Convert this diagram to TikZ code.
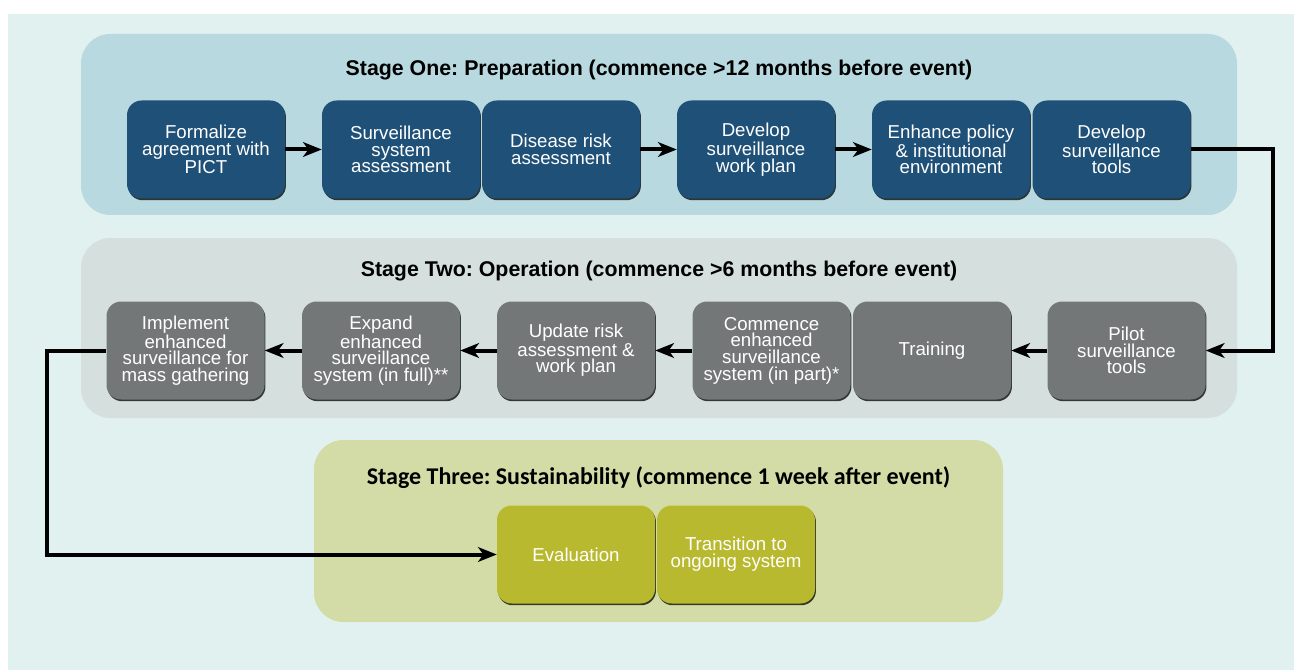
\documentclass[tikz,border=0pt]{standalone}
\usepackage{fontspec}
\setmainfont{Liberation Sans}
\newfontfamily\calibrifont{Carlito}
\usetikzlibrary{arrows.meta, shadows, positioning}
\frenchspacing

\definecolor{pagebg}{HTML}{E1F1F0}
\definecolor{panelone}{HTML}{B7D9DF}
\definecolor{paneltwo}{HTML}{D5DFDE}
\definecolor{panelthree}{HTML}{D3DCA6}
\definecolor{boxblue}{HTML}{1E5078}
\definecolor{boxgray}{HTML}{747778}
\definecolor{boxolive}{HTML}{B9B92F}

\begin{document}
\begin{tikzpicture}[x=0.75pt, y=-0.75pt,
		stepbox/.style={rounded corners=11pt, minimum width=118.5pt, minimum height=73.5pt,
			inner sep=0pt, align=center, text=white, font=\fontsize{14}{12.5}\selectfont,
			drop shadow={shadow xshift=0.7pt, shadow yshift=-1.3pt, opacity=0.75, fill=black}},
		flow/.style={line width=3pt, -{Stealth[length=14pt, width=11pt, inset=4pt]}},
		stagetitle/.style={font=\bfseries\fontsize{16}{19}\selectfont}]
		\useasboundingbox (0,0) rectangle (1294,670);
		\fill[pagebg] (8,14) rectangle (1294,670);
		
		\def\rowOne{149.5}   % y of stage one boxes
		\def\rowTwo{350.5}   % y of stage two boxes
		\def\rowThree{554.5} % y of stage three boxes
		
		% stage panels
		\fill[panelone, rounded corners=22pt] (81,34) rectangle (1237,215);
		\fill[paneltwo, rounded corners=22pt] (81,238) rectangle (1237,418);
		\fill[panelthree, rounded corners=22pt] (314,440) rectangle (1003,622);
		
		\node[stagetitle] (titleone) at (659,70) {Stage One: Preparation (commence >12 months before event)};
		\node[stagetitle] (titletwo) at (659,271) {Stage Two: Operation (commence >6 months before event)};
		\node[stagetitle, font=\calibrifont\bfseries\fontsize{18}{21}\selectfont] (titlethree) at (658.5,478) {Stage Three: Sustainability (commence 1 week after event)};
		
		% stage one
		\foreach \name/\x/\txt in {formalize/206/{Formalize\\agreement with\\PICT},
			survsys/401/{Surveillance\\system\\assessment},
			riskassess/561/{Disease risk\\assessment},
			workplan/756/{Develop\\surveillance\\work plan},
			policy/951/{Enhance policy\\\& institutional\\environment},
			devtools/1111.5/{Develop\\surveillance\\tools}}{
			\node[stepbox, fill=boxblue] (\name) at (\x,\rowOne) {\txt};
		}
		
		% stage two
		\foreach \name/\x/\txt in {implement/185.5/{Implement\\enhanced\\surveillance for\\mass gathering},
			expand/381/{Expand\\enhanced\\surveillance\\system (in full)**},
			update/576/{Update risk\\assessment \&\\work plan},
			commence/771.5/{Commence\\enhanced\\surveillance\\system (in part)*},
			training/932/{Training},
			pilot/1126.5/{Pilot\\surveillance\\tools}}{
			\node[stepbox, fill=boxgray] (\name) at (\x,\rowTwo) {\txt};
		}
		
		% stage three
		\node[stepbox, fill=boxolive] (evaluation) at (576,\rowThree) {Evaluation};
		\node[stepbox, fill=boxolive] (transition) at (736,\rowThree) {Transition to\\ongoing system};
		
		\coordinate (turnR) at (1273,0);
		\coordinate (turnL) at (47,0);
		
		\draw[flow] (formalize) -- (survsys);
		\draw[flow] (riskassess) -- (workplan);
		\draw[flow] (workplan) -- (policy);
		\draw[flow] (devtools.east) -- (devtools.east -| turnR) |- (pilot.east);
		\draw[flow] (pilot) -- (training);
		\draw[flow] (commence) -- (update);
		\draw[flow] (update) -- (expand);
		\draw[flow] (expand) -- (implement);
		\draw[flow] (implement.west) -- (implement.west -| turnL) |- (evaluation.west);
		
	\end{tikzpicture}
\end{document}
